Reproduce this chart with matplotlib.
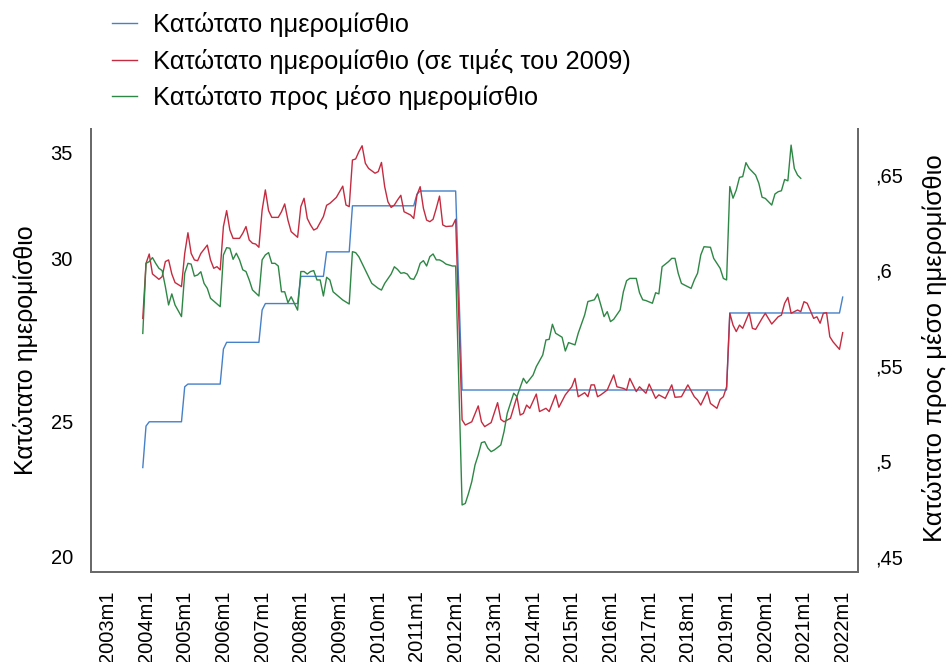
import numpy as np
import matplotlib
matplotlib.use("Agg")
import matplotlib.pyplot as plt
from matplotlib.lines import Line2D

plt.rcParams["font.family"] = ["Liberation Sans", "DejaVu Sans"]

# ──────────────────────────────────────────────
#  Data (months counted from 2003m12 = 0)
# ──────────────────────────────────────────────
blue_m = [0, 1, 2, 12, 13, 14, 24, 25, 26, 36, 37, 38, 48, 49, 56, 57, 64, 65,
          84, 85, 86, 97, 99, 181, 182, 216, 217]
blue_v = [23.30, 24.84, 25.00, 25.00, 26.30, 26.40, 26.40, 27.70, 27.95, 27.95,
          29.15, 29.39, 29.39, 30.40, 30.40, 31.31, 31.31, 33.02, 33.02, 33.45,
          33.57, 33.57, 26.18, 26.18, 29.04, 29.04, 29.63]

red_m = [0, 1, 2, 3, 5, 6, 7, 8, 9, 10, 12, 13, 14, 15, 16, 17, 18, 20, 21, 22,
         23, 24, 25, 26, 27, 28, 30, 31, 32, 33, 34, 35, 36, 37, 38, 39, 40, 42,
         43, 44, 45, 46, 48, 49, 50, 51, 52, 53, 54, 56, 57, 58, 60, 61, 62, 63,
         64, 65, 66, 67, 68, 69, 70, 72, 73, 74, 75, 76, 77, 78, 79, 80, 81, 82,
         83, 84, 85, 86, 87, 88, 89, 90, 91, 92, 93, 94, 96, 97, 99, 100, 102,
         104, 105, 106, 108, 110, 111, 112, 114, 116, 117, 118, 119, 120, 122,
         123, 125, 126, 128, 129, 131, 133, 134, 135, 137, 138, 139, 140, 141,
         142, 144, 146, 147, 149, 150, 151, 153, 154, 156, 157, 159, 160, 162,
         164, 165, 167, 169, 171, 172, 173, 175, 176, 178, 179, 180, 181, 182,
         183, 184, 185, 186, 188, 189, 190, 192, 193, 195, 197, 198, 199, 200,
         201, 202, 203, 204, 205, 206, 208, 209, 210, 211, 212, 213, 214, 216, 217]
red_v = [28.84, 30.88, 31.23, 30.49, 30.29, 30.39, 30.95, 31.01, 30.49, 30.17,
         30.02, 31.25, 32.02, 31.25, 31.01, 30.98, 31.25, 31.56, 31.01, 30.70,
         30.76, 30.64, 32.25, 32.84, 32.12, 31.81, 31.81, 32.00, 32.25, 31.75,
         31.63, 31.60, 31.48, 32.86, 33.61, 32.84, 32.59, 32.59, 32.80, 33.09,
         32.49, 32.06, 31.85, 32.99, 33.30, 32.55, 32.31, 32.12, 32.18, 32.62,
         33.04, 33.11, 33.33, 33.54, 33.75, 33.05, 32.99, 34.72, 34.76, 35.03,
         35.25, 34.60, 34.41, 34.23, 34.29, 34.63, 33.73, 33.17, 32.96, 33.05,
         33.24, 33.41, 32.80, 32.74, 32.68, 32.55, 33.42, 33.73, 32.93, 32.49,
         32.43, 32.52, 32.93, 33.38, 32.31, 32.25, 32.27, 32.52, 25.07, 24.88,
         25.00, 25.59, 25.00, 24.82, 24.97, 25.71, 25.09, 25.00, 25.13, 25.93,
         25.25, 25.31, 25.62, 25.50, 26.03, 25.38, 25.50, 25.38, 26.00, 25.54,
         26.00, 26.30, 26.61, 25.93, 26.08, 25.93, 26.37, 26.37, 25.93, 26.00,
         26.18, 26.74, 26.30, 26.24, 26.18, 26.61, 26.12, 26.30, 26.06, 26.40,
         25.87, 26.00, 25.87, 26.37, 25.91, 25.93, 26.37, 25.93, 25.81, 25.62,
         26.12, 25.68, 25.50, 25.83, 25.93, 26.30, 29.03, 28.59, 28.35, 28.59,
         28.47, 29.05, 28.47, 28.43, 28.84, 29.03, 28.63, 28.90, 28.96, 29.40,
         29.62, 29.03, 29.09, 29.15, 29.09, 29.46, 29.40, 28.84, 28.90, 28.66,
         29.03, 29.05, 28.16, 27.97, 27.69, 28.31]

green_m = [0, 1, 2, 3, 4, 5, 6, 7, 8, 9, 10, 12, 13, 14, 15, 16, 17, 18, 19, 20,
           21, 24, 25, 26, 27, 28, 29, 30, 31, 32, 33, 34, 36, 37, 38, 39, 40,
           41, 42, 43, 44, 45, 46, 47, 48, 49, 50, 51, 52, 53, 54, 55, 56, 57,
           58, 59, 61, 62, 64, 65, 66, 67, 69, 70, 71, 73, 74, 75, 77, 78, 79,
           80, 81, 82, 83, 84, 85, 86, 87, 88, 89, 90, 91, 92, 93, 94, 96, 97,
           99, 100, 101, 102, 103, 104, 105, 106, 107, 108, 109, 111, 112, 113,
           115, 116, 118, 119, 121, 122, 124, 125, 126, 127, 128, 130, 131, 132,
           134, 135, 137, 138, 140, 141, 142, 143, 144, 145, 146, 148, 149, 150,
           151, 153, 154, 155, 156, 158, 159, 160, 161, 163, 164, 165, 166, 167,
           168, 170, 171, 172, 173, 174, 176, 177, 179, 180, 181, 182, 183, 184,
           185, 186, 187, 188, 190, 191, 192, 193, 195, 196, 197, 198, 199, 200,
           201, 202, 203, 204]
green_v = [0.5669, 0.6036, 0.6045, 0.6066, 0.6036, 0.6010, 0.5998, 0.5914,
           0.5818, 0.5876, 0.5818, 0.5757, 0.5984, 0.6036, 0.6032, 0.5969,
           0.5975, 0.5992, 0.5931, 0.5905, 0.5853, 0.5809, 0.6080, 0.6118,
           0.6115, 0.6057, 0.6089, 0.6054, 0.6002, 0.5993, 0.5949, 0.5897,
           0.5865, 0.6054, 0.6080, 0.6092, 0.6036, 0.6036, 0.6022, 0.5887,
           0.5887, 0.5830, 0.5861, 0.5826, 0.5791, 0.5993, 0.5993, 0.5980,
           0.5993, 0.5998, 0.5949, 0.5949, 0.5865, 0.5963, 0.5949, 0.5887,
           0.5858, 0.5844, 0.5823, 0.6097, 0.6092, 0.6070, 0.6001, 0.5966,
           0.5931, 0.5905, 0.5896, 0.5931, 0.5980, 0.6018, 0.6004, 0.5984,
           0.5987, 0.5980, 0.5956, 0.5952, 0.5984, 0.6036, 0.6050, 0.6022,
           0.6071, 0.6085, 0.6054, 0.6054, 0.6045, 0.6032, 0.6022, 0.6022,
           0.4771, 0.4779, 0.4832, 0.4893, 0.4980, 0.5033, 0.5097, 0.5102,
           0.5068, 0.5050, 0.5059, 0.5085, 0.5155, 0.5251, 0.5356, 0.5338,
           0.5434, 0.5408, 0.5451, 0.5495, 0.5556, 0.5635, 0.5638, 0.5717,
           0.5670, 0.5649, 0.5577, 0.5621, 0.5609, 0.5670, 0.5766, 0.5836,
           0.5845, 0.5876, 0.5818, 0.5757, 0.5783, 0.5731, 0.5743, 0.5792,
           0.5887, 0.5945, 0.5957, 0.5957, 0.5882, 0.5845, 0.5841, 0.5827,
           0.5882, 0.5876, 0.6018, 0.6045, 0.6062, 0.6062, 0.5984, 0.5931,
           0.5922, 0.5905, 0.5949, 0.5984, 0.6080, 0.6123, 0.6120, 0.6062,
           0.6010, 0.5957, 0.5949, 0.6438, 0.6377, 0.6420, 0.6486, 0.6490,
           0.6563, 0.6533, 0.6498, 0.6455, 0.6382, 0.6376, 0.6341, 0.6399,
           0.6411, 0.6416, 0.6475, 0.6468, 0.6655, 0.6533, 0.6498, 0.6481]

years = list(range(2003, 2023))
left_ticks = [20, 25, 31.08, 35]
left_labels = ["20", "25", "30", "35"]
right_ticks = [0.45, 0.50, 0.55, 0.60, 0.65]
right_labels = [",45", ",5", ",55", ",6", ",65"]

legend_labels = ["Κατώτατο ημερομίσθιο",
                 "Κατώτατο ημερομίσθιο (σε τιμές του 2009)",
                 "Κατώτατο προς μέσο ημερομίσθιο"]
ylabel_left = "Κατώτατο ημερομίσθιο"
ylabel_right = "Κατώτατο προς μέσο ημερομίσθιο"

c_blue, c_red, c_green = "#4580c8", "#c42b40", "#2e8745"
spine_col = "#6a6a6a"


def to_year(m):
    # month offset from 2003m12 -> decimal year (Ym1 == Y)
    return 2003 + (11 + np.asarray(m)) / 12


# ──────────────────────────────────────────────
#  Figure
# ──────────────────────────────────────────────
fig = plt.figure(figsize=(9.46, 6.62), dpi=100)
ax = fig.add_axes([90.7 / 946, 1 - 571.7 / 662, 767 / 946, 442.7 / 662])
ax2 = ax.twinx()

ax.plot(to_year(blue_m), blue_v, color=c_blue, lw=1.0)
ax.plot(to_year(red_m), red_v, color=c_red, lw=1.0)
ax2.plot(to_year(green_m), green_v, color=c_green, lw=1.0)

ax.set_xlim(2002.571, 2022.3875)
ax.set_ylim(19.433, 35.872)
ax2.set_ylim(0.44215, 0.67393)

ax.set_xticks(years)
ax.set_xticklabels([f"{y}m1" for y in years], rotation=90)
ax.set_yticks(left_ticks)
ax.set_yticklabels(left_labels)
ax2.set_yticks(right_ticks)
ax2.set_yticklabels(right_labels)

ax.tick_params(axis="x", length=0, pad=13.5, labelsize=14.5)
ax.tick_params(axis="y", length=0, pad=12.7, labelsize=14.5)
ax2.tick_params(axis="y", length=0, pad=12.5, labelsize=14.5)

for a in (ax, ax2):
    a.spines["top"].set_visible(False)
    for s in ("left", "right", "bottom"):
        a.spines[s].set_color(spine_col)
        a.spines[s].set_linewidth(1.4)

fig.text(26 / 946, 1 - 350 / 662, ylabel_left, rotation=90,
         ha="center", va="center", fontsize=18)
fig.text(934 / 946, 1 - 348 / 662, ylabel_right, rotation=90,
         ha="center", va="center", fontsize=18.5)

handles = [Line2D([], [], color=c, lw=1.0) for c in (c_blue, c_red, c_green)]
fig.legend(handles, legend_labels, loc="upper left",
           bbox_to_anchor=(112 / 946, 1 - 12 / 662), bbox_transform=fig.transFigure,
           frameon=False, fontsize=18.4, handlelength=0.98, handletextpad=0.62,
           labelspacing=0.45, borderpad=0, borderaxespad=0)

fig.savefig("out.png", dpi=100)
